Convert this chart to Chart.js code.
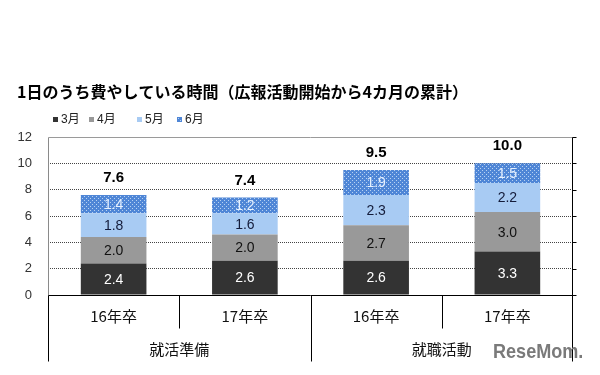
<!DOCTYPE html>
<html><head><meta charset="utf-8">
<script src="https://cdn.jsdelivr.net/npm/chart.js@4/dist/chart.umd.min.js"></script>
<style>html,body{margin:0;padding:0;background:#fff}#wrap{width:600px;height:375px;position:relative}</style>
</head><body><div id="wrap"><canvas id="c" width="600" height="375"></canvas></div>
<script>
const titleText = '1日のうち費やしている時間（広報活動開始から4カ月の累計）';
const categories = ['16年卒', '17年卒', '16年卒', '17年卒'];
const groups = ['就活準備', '就職活動'];
const seriesNames = ['3月', '4月', '5月', '6月'];
const march = [2.4, 2.6, 2.6, 3.3];
const april = [2.0, 2.0, 2.7, 3.0];
const may = [1.8, 1.6, 2.3, 2.2];
const june = [1.4, 1.2, 1.9, 1.5];
const totals = [7.6, 7.4, 9.5, 10.0];
const yMin = 0, yMax = 12, yStep = 2;
const watermark = 'ReseMom.';

const FONT = '"Liberation Sans", Arial, "Noto Sans CJK JP", sans-serif';
const JFONT = '"Noto Sans CJK JP", "Liberation Sans", sans-serif';

function dotPattern() {
  const p = document.createElement('canvas');
  p.width = 4; p.height = 4;
  const g = p.getContext('2d');
  g.fillStyle = '#4f86d6'; g.fillRect(0, 0, 4, 4);
  g.fillStyle = '#b8d2f2'; g.fillRect(0, 0, 1, 1); g.fillRect(2, 2, 1, 1);
  return g.createPattern(p, 'repeat');
}
const pat = dotPattern();
const fills = ['#333333', '#999999', '#a8cbf3', pat];
const labelColors = ['#ffffff', '#111111', '#141c3a', '#e6f1ff'];
const seriesData = [march, april, may, june];

const framePlugin = {
  id: 'frame',
  afterDraw(chart) {
    const ctx = chart.ctx, xs = chart.scales.x, ys = chart.scales.y;
    const top = Math.round(ys.getPixelForValue(yMax)) + 0.5;
    const bot = Math.round(ys.getPixelForValue(yMin)) + 0.5;
    const left = Math.round(xs.left) + 0.5, right = Math.round(xs.right) - 0.5;
    const half = (xs.getPixelForValue(1) - xs.getPixelForValue(0)) / 2;
    ctx.save();
    ctx.lineWidth = 1;
    ctx.strokeStyle = '#9a9a9a';
    ctx.beginPath(); ctx.moveTo(left, top); ctx.lineTo(right, top); ctx.stroke();
    ctx.strokeStyle = '#8a8a8a';
    ctx.beginPath(); ctx.moveTo(left, top); ctx.lineTo(left, bot); ctx.stroke();
    ctx.strokeStyle = '#000';
    ctx.beginPath(); ctx.moveTo(left, bot); ctx.lineTo(left, bot + 66); ctx.stroke();
    ctx.beginPath(); ctx.moveTo(right, top); ctx.lineTo(right, bot + 66); ctx.stroke();
    for (let v = yMin; v <= yMax; v += yStep) {
      const py = Math.round(ys.getPixelForValue(v)) + 0.5;
      ctx.beginPath(); ctx.moveTo(right, py); ctx.lineTo(right + 4, py); ctx.stroke();
    }
    ctx.beginPath(); ctx.moveTo(left, bot); ctx.lineTo(right, bot); ctx.stroke();
    for (let i = 0; i < categories.length - 1; i++) {
      const px = Math.round(xs.getPixelForValue(i) + half) + 0.5;
      const len = (i % 2 === 1) ? 66 : 33;
      ctx.beginPath(); ctx.moveTo(px, bot); ctx.lineTo(px, bot + len); ctx.stroke();
    }
    ctx.fillStyle = '#111';
    ctx.font = '15px ' + JFONT;
    ctx.textAlign = 'center'; ctx.textBaseline = 'middle';
    groups.forEach((g, gi) => {
      const a = xs.getPixelForValue(gi * 2) - half;
      const b = xs.getPixelForValue(gi * 2 + 1) + half;
      ctx.fillText(g, (a + b) / 2, bot + 54);
    });
    ctx.font = '14px ' + FONT;
    chart.data.datasets.forEach((ds, di) => {
      const meta = chart.getDatasetMeta(di);
      ctx.fillStyle = labelColors[di];
      meta.data.forEach((el, i) => {
        ctx.fillText(ds.data[i].toFixed(1), el.x, (el.y + el.base) / 2 + 1);
      });
    });
    const lastMeta = chart.getDatasetMeta(chart.data.datasets.length - 1);
    ctx.fillStyle = '#000';
    ctx.font = 'bold 15px ' + FONT;
    lastMeta.data.forEach((el, i) => {
      ctx.fillText(totals[i].toFixed(1), el.x, el.y - 17);
    });
    ctx.textAlign = 'left';
    ctx.font = 'bold 16px ' + JFONT;
    ctx.fillStyle = '#000';
    ctx.fillText(titleText, 17, 92);
    const legX = [53, 89, 137, 177];
    ctx.font = '12px ' + FONT;
    seriesNames.forEach((n, i) => {
      ctx.fillStyle = fills[i];
      ctx.fillRect(legX[i], 117, 5, 5);
      ctx.fillStyle = '#222';
      ctx.fillText(n, legX[i] + 8, 120);
    });
    ctx.save();
    ctx.translate(493, 352);
    ctx.scale(0.86, 1);
    ctx.font = 'bold 21px ' + FONT;
    ctx.fillStyle = '#7a7a7a';
    ctx.textAlign = 'left';
    ctx.fillText(watermark, 0, 0);
    ctx.restore();
    ctx.restore();
  }
};

new Chart(document.getElementById('c'), {
  type: 'bar',
  data: {
    labels: categories,
    datasets: seriesNames.map((n, i) => ({
      label: n,
      data: seriesData[i],
      backgroundColor: fills[i],
      borderWidth: 0,
      barPercentage: 0.5,
      categoryPercentage: 1.0
    }))
  },
  options: {
    responsive: false,
    animation: false,
    devicePixelRatio: 1,
    layout: { padding: { top: 137, right: 27, left: 0, bottom: 0 } },
    plugins: { legend: { display: false }, title: { display: false }, tooltip: { enabled: false } },
    scales: {
      x: {
        stacked: true,
        grid: { display: false },
        border: { display: false },
        ticks: { color: '#111', font: { size: 15, family: JFONT }, padding: 4, maxRotation: 0 },
        afterFit(s) { s.height = 80; }
      },
      y: {
        stacked: true,
        min: yMin, max: yMax,
        ticks: { stepSize: yStep, color: '#333', font: { size: 13, family: FONT }, padding: 16 },
        grid: {
          drawTicks: false,
          color: (c) => (c.tick && (c.tick.value === yMin || c.tick.value === yMax)) ? 'rgba(0,0,0,0)' : '#444',
          lineWidth: 1
        },
        border: { display: false, dash: [1, 1] },
        afterFit(s) { s.width = 48; }
      }
    }
  },
  plugins: [framePlugin]
});
</script>
</body></html>
